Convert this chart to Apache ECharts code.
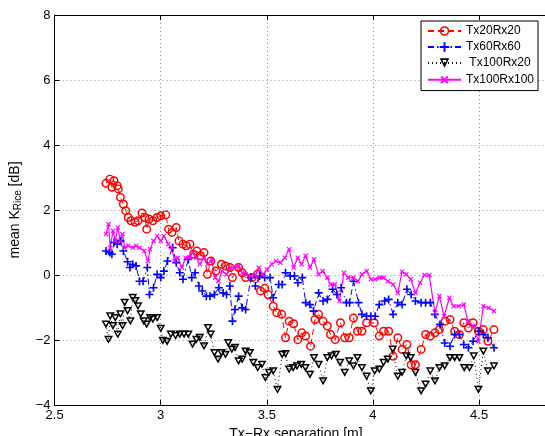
<!DOCTYPE html>
<html>
<head>
<meta charset="utf-8">
<script src="https://cdn.jsdelivr.net/npm/echarts@6/dist/echarts.min.js"></script>
<style>
html,body{margin:0;padding:0;background:#fff;}
#chart{width:545px;height:436px;}
</style>
</head>
<body>
<div id="chart"></div>
<script>
// ---- data ----
const seriesNames = ['Tx20Rx20', 'Tx60Rx60', ' Tx100Rx20', 'Tx100Rx100'];
const xTicks = [2.5, 3, 3.5, 4, 4.5, 5];
const yTicks = [-4, -2, 0, 2, 4, 6, 8];

const redX = [2.742,2.76,2.77,2.78,2.795,2.80,2.81,2.824,2.835,2.847,
  2.86,2.88,2.893,2.912,2.925,2.934,2.945,2.963,2.983,3.0,
  3.024,3.037,3.053,3.073,3.086,3.105,3.12,3.138,3.155,3.17,
  3.187,3.204,3.22,3.236,3.26,3.286,3.305,3.326,3.338,3.367,
  3.384,3.40,3.43,3.455,3.47,3.49,3.506,3.53,3.547,3.57,
  3.588,3.605,3.626,3.646,3.665,3.683,3.706,3.727,3.744,3.765,
  3.785,3.80,3.822,3.847,3.867,3.888,3.908,3.927,3.948,3.97,
  4.006,4.03,4.05,4.074,4.095,4.117,4.137,4.16,4.18,4.20,
  4.227,4.248,4.27,4.292,4.313,4.34,4.363,4.385,4.407,4.428,
  4.45,4.472,4.497,4.52,4.542,4.57];
const redY = [2.82,2.95,2.7,2.9,2.75,2.65,2.39,2.18,1.98,1.77,
  1.67,1.62,1.67,1.91,1.77,1.41,1.72,1.67,1.77,1.82,
  1.85,1.41,1.31,1.46,1.05,0.95,0.9,0.95,0.64,0.74,
  0.59,0.69,0.02,0.43,0.12,0.33,0.28,0.23,-0.08,0.23,
  0.07,-0.08,-0.08,0.02,-0.49,-0.41,-0.6,-0.96,-1.16,-1.21,
  -1.93,-1.42,-1.5,-1.99,-1.78,-1.88,-2.19,-1.37,-1.21,-1.42,
  -1.57,-1.83,-1.99,-1.47,-1.93,-1.93,-1.32,-1.73,-1.73,-1.47,
  -1.47,-1.88,-1.73,-1.73,-2.5,-1.93,-2.29,-2.14,-2.76,-2.76,
  -2.29,-1.83,-1.88,-1.78,-1.68,-1.42,-1.37,-1.73,-1.83,-1.47,
  -1.63,-1.47,-1.73,-1.68,-2.04,-1.68];

const blueX = [2.742,2.76,2.77,2.78,2.795,2.81,2.824,2.844,2.855,2.868,
  2.884,2.90,2.917,2.937,2.947,2.966,2.983,3.0,3.015,3.032,
  3.056,3.073,3.09,3.105,3.13,3.146,3.162,3.18,3.196,3.215,
  3.232,3.253,3.274,3.294,3.31,3.326,3.338,3.35,3.367,3.384,
  3.40,3.425,3.446,3.466,3.49,3.515,3.53,3.556,3.572,3.588,
  3.61,3.63,3.646,3.667,3.683,3.703,3.72,3.744,3.765,3.785,
  3.81,3.83,3.85,3.875,3.89,3.908,3.932,3.948,3.97,3.99,
  4.01,4.03,4.055,4.074,4.095,4.117,4.137,4.16,4.18,4.20,
  4.227,4.248,4.27,4.292,4.316,4.338,4.363,4.385,4.407,4.428,
  4.45,4.472,4.497,4.52,4.542,4.57];
const blueY = [0.74,0.69,0.64,1.0,0.95,1.05,0.74,0.41,0.23,0.33,
  0.28,-0.19,-0.19,0.23,-0.6,-0.39,0.02,-0.08,0.12,0.43,
  0.84,0.38,0.07,-0.13,0.48,-0.08,0.07,-0.34,-0.49,-0.65,
  -0.65,-0.6,-0.39,-0.55,-0.6,-0.34,-1.42,-1.06,-0.65,-1.01,
  -1.06,-0.08,-0.34,-0.03,-0.08,-0.08,-0.7,-0.29,-0.29,0.07,
  -0.03,-0.03,-0.24,-0.08,-0.85,-0.91,-1.11,-0.55,-0.8,-0.75,
  -0.44,-0.6,-0.39,-0.85,-0.85,-0.19,-0.85,-1.21,-1.27,-1.27,
  -1.27,-0.91,-0.8,-0.75,-1.21,-0.85,-0.91,-0.44,-0.6,-0.8,
  -0.85,-0.85,-0.85,-1.21,-1.52,-2.09,-2.19,-1.83,-1.83,-2.14,
  -2.24,-2.04,-1.73,-1.83,-1.93,-2.24];

const blackX = [2.742,2.754,2.762,2.775,2.786,2.798,2.81,2.82,2.83,2.844,
  2.857,2.868,2.88,2.893,2.906,2.92,2.934,2.95,2.963,2.983,
  3.0,3.01,3.03,3.048,3.07,3.09,3.11,3.13,3.15,3.168,
  3.184,3.204,3.223,3.236,3.253,3.27,3.286,3.305,3.318,3.335,
  3.35,3.367,3.384,3.40,3.42,3.436,3.457,3.477,3.493,3.51,
  3.53,3.55,3.572,3.588,3.605,3.624,3.642,3.662,3.682,3.703,
  3.722,3.744,3.765,3.785,3.805,3.825,3.845,3.867,3.888,3.908,
  3.927,3.948,3.97,3.99,4.008,4.03,4.05,4.07,4.093,4.117,
  4.137,4.157,4.178,4.2,4.227,4.248,4.27,4.292,4.313,4.338,
  4.363,4.385,4.407,4.43,4.455,4.475,4.497,4.52,4.542,4.57];
const blackY = [-1.52,-1.99,-1.27,-1.57,-1.32,-1.83,-1.21,-1.57,-0.85,-1.11,
  -1.42,-0.7,-0.8,-0.96,-1.21,-1.42,-1.52,-1.32,-1.37,-1.32,
  -1.65,-2.02,-2.05,-1.83,-1.88,-1.83,-1.83,-1.83,-2.14,-1.99,
  -1.93,-2.19,-1.63,-1.83,-2.4,-2.6,-2.4,-2.45,-2.09,-2.29,
  -2.24,-2.65,-2.6,-2.35,-2.4,-2.7,-2.86,-2.76,-3.17,-3.01,
  -2.96,-3.53,-2.45,-2.43,-2.91,-2.86,-2.81,-2.76,-2.86,-3.07,
  -2.55,-2.76,-3.27,-2.55,-2.5,-2.45,-2.7,-3.01,-2.65,-2.81,
  -2.55,-2.86,-3.12,-3.58,-2.96,-2.91,-2.7,-2.6,-2.29,-3.12,
  -3.01,-2.5,-2.55,-3.01,-3.58,-3.37,-2.96,-3.27,-2.86,-2.81,
  -2.55,-2.55,-2.55,-2.86,-2.86,-2.5,-3.53,-2.35,-2.96,-2.81];

const magX = [2.742,2.754,2.762,2.775,2.786,2.798,2.81,2.82,2.83,2.847,
  2.868,2.884,2.90,2.922,2.94,2.95,2.966,2.983,3.0,3.015,
  3.035,3.052,3.065,3.08,3.1,3.117,3.135,3.15,3.168,3.184,
  3.204,3.22,3.24,3.256,3.272,3.29,3.31,3.326,3.348,3.367,
  3.384,3.40,3.425,3.446,3.462,3.482,3.5,3.523,3.543,3.564,
  3.585,3.605,3.626,3.646,3.663,3.683,3.703,3.722,3.744,3.763,
  3.785,3.80,3.82,3.842,3.863,3.883,3.908,3.93,3.948,3.97,
  3.99,4.01,4.03,4.05,4.07,4.095,4.117,4.137,4.157,4.178,
  4.2,4.222,4.243,4.265,4.292,4.313,4.335,4.36,4.38,4.404,
  4.428,4.448,4.472,4.497,4.52,4.545,4.57];
const magY = [1.26,1.56,0.84,1.36,1.05,1.46,1.05,1.26,0.84,0.9,
  0.84,0.9,0.84,0.74,0.43,0.79,1.05,1.2,1.05,1.2,
  0.95,0.84,0.43,0.53,0.23,0.53,0.53,0.69,0.53,0.33,
  0.53,0.33,0.48,-0.08,-0.19,0.12,0.02,0.23,0.23,0.28,
  0.07,0.02,-0.03,0.0,0.23,0.02,0.17,0.33,0.43,0.38,
  0.53,0.79,0.23,0.53,0.33,0.59,0.23,0.48,0.02,0.12,
  -0.08,-0.29,-0.29,-0.8,0.07,-0.08,-0.08,-0.19,0.02,0.12,
  -0.13,-0.13,-0.08,-0.08,-0.19,-0.29,-0.55,0.1,0.02,-0.13,
  -0.55,-0.24,0.0,0.0,-1.16,-0.65,-1.27,-0.7,-0.96,-0.96,
  -0.91,-1.42,-1.57,-2.04,-0.96,-1.01,-1.11];

// ---- build ----
function zip(xs, ys) {
  const n = Math.min(xs.length, ys.length);
  const out = [];
  for (let i = 0; i < n; i++) out.push([xs[i], ys[i]]);
  return out;
}
const FONT = 'Liberation Sans, Arial, Helvetica, sans-serif';
const circleRing = 'path://M0,5A5,5,0,1,1,10,5A5,5,0,1,1,0,5ZM1.65,5A3.35,3.35,0,1,0,8.35,5A3.35,3.35,0,1,0,1.65,5Z';
const plusPath = 'path://M4.0,0H6.0V4.0H10V6.0H6.0V10H4.0V6.0H0V4.0H4.0Z';
const triDownRing = 'path://M0,0L10,0L5,9ZM2.75,1.7L5,5.6L7.25,1.7Z';

const chart = echarts.init(document.getElementById('chart'), null, {renderer: 'canvas'});
const option = {
  animation: false,
  backgroundColor: '#ffffff',
  textStyle: {fontFamily: FONT},
  grid: {left: 54.6, top: 15, width: 530.6, height: 390, containLabel: false, outerBoundsMode: 'none'},
  legend: {
    data: seriesNames,
    orient: 'vertical',
    left: 421, top: 21,
    padding: [4, 4, 4, 6],
    itemGap: 4,
    itemWidth: 33, itemHeight: 12,
    borderColor: '#000', borderWidth: 1,
    backgroundColor: '#fff',
    borderRadius: 0,
    textStyle: {fontFamily: FONT, fontSize: 12, color: '#000'}
  },
  xAxis: [{
    type: 'value', min: xTicks[0], max: xTicks[xTicks.length - 1], interval: 0.5,
    position: 'bottom',
    name: 'Tx\u2212Rx separation [m]', nameLocation: 'middle', nameGap: 16,
    nameTextStyle: {fontFamily: FONT, fontSize: 14, color: '#000', padding: [0, 48, 0, 0]},
    axisLine: {onZero: false, lineStyle: {color: '#000', width: 1}},
    axisTick: {inside: true, length: 5, lineStyle: {color: '#000'}},
    axisLabel: {margin: 4, fontSize: 13, color: '#000', fontFamily: FONT},
    splitLine: {show: true, lineStyle: {color: '#8c8c8c', type: [1, 3], width: 1}}
  }, {
    type: 'value', min: xTicks[0], max: xTicks[xTicks.length - 1], interval: 0.5,
    position: 'top',
    axisLine: {onZero: false, lineStyle: {color: '#000', width: 1}},
    axisTick: {inside: true, length: 5, lineStyle: {color: '#000'}},
    axisLabel: {show: false},
    splitLine: {show: false}
  }],
  yAxis: {
    type: 'value', min: yTicks[0], max: yTicks[yTicks.length - 1], interval: 2,
    name: 'mean K{sub|Rice} [dB]', nameLocation: 'middle', nameGap: 31, nameRotate: 90,
    nameTextStyle: {fontFamily: FONT, fontSize: 14, color: '#000',
      rich: {sub: {fontSize: 10, fontFamily: FONT, color: '#000', verticalAlign: 'bottom', padding: [6, 0, 0, 0]}}},
    axisLine: {show: true, onZero: false, lineStyle: {color: '#000', width: 1}},
    axisTick: {show: true, inside: true, length: 5, lineStyle: {color: '#000'}},
    axisLabel: {margin: 4, fontSize: 13, color: '#000', fontFamily: FONT,
      formatter: v => String(v).replace('-', '\u2212')},
    splitLine: {show: true, lineStyle: {color: '#8c8c8c', type: [1, 3], width: 1}}
  },
  series: [
    {
      name: seriesNames[0], type: 'line', data: zip(redX, redY),
      symbol: circleRing, symbolSize: 9,
      itemStyle: {color: '#ff0000'},
      lineStyle: {color: '#ff0000', width: 1, type: [6, 4]}
    },
    {
      name: seriesNames[1], type: 'line', data: zip(blueX, blueY),
      symbol: plusPath, symbolSize: 8,
      itemStyle: {color: '#0000ff'},
      lineStyle: {color: '#0000ff', width: 1, type: [6, 3, 1.5, 3]}
    },
    {
      name: seriesNames[2], type: 'line', data: zip(blackX, blackY),
      symbol: triDownRing, symbolSize: [9, 8],
      itemStyle: {color: '#000000'},
      lineStyle: {color: '#000000', width: 1, type: [1, 3]}
    },
    {
      name: seriesNames[3], type: 'line', data: zip(magX, magY),
      symbol: plusPath, symbolSize: 6, symbolRotate: 45,
      itemStyle: {color: '#ff00ff'},
      lineStyle: {color: '#ff00ff', width: 1.2}
    }
  ]
};
chart.setOption(option);
</script>
</body>
</html>
